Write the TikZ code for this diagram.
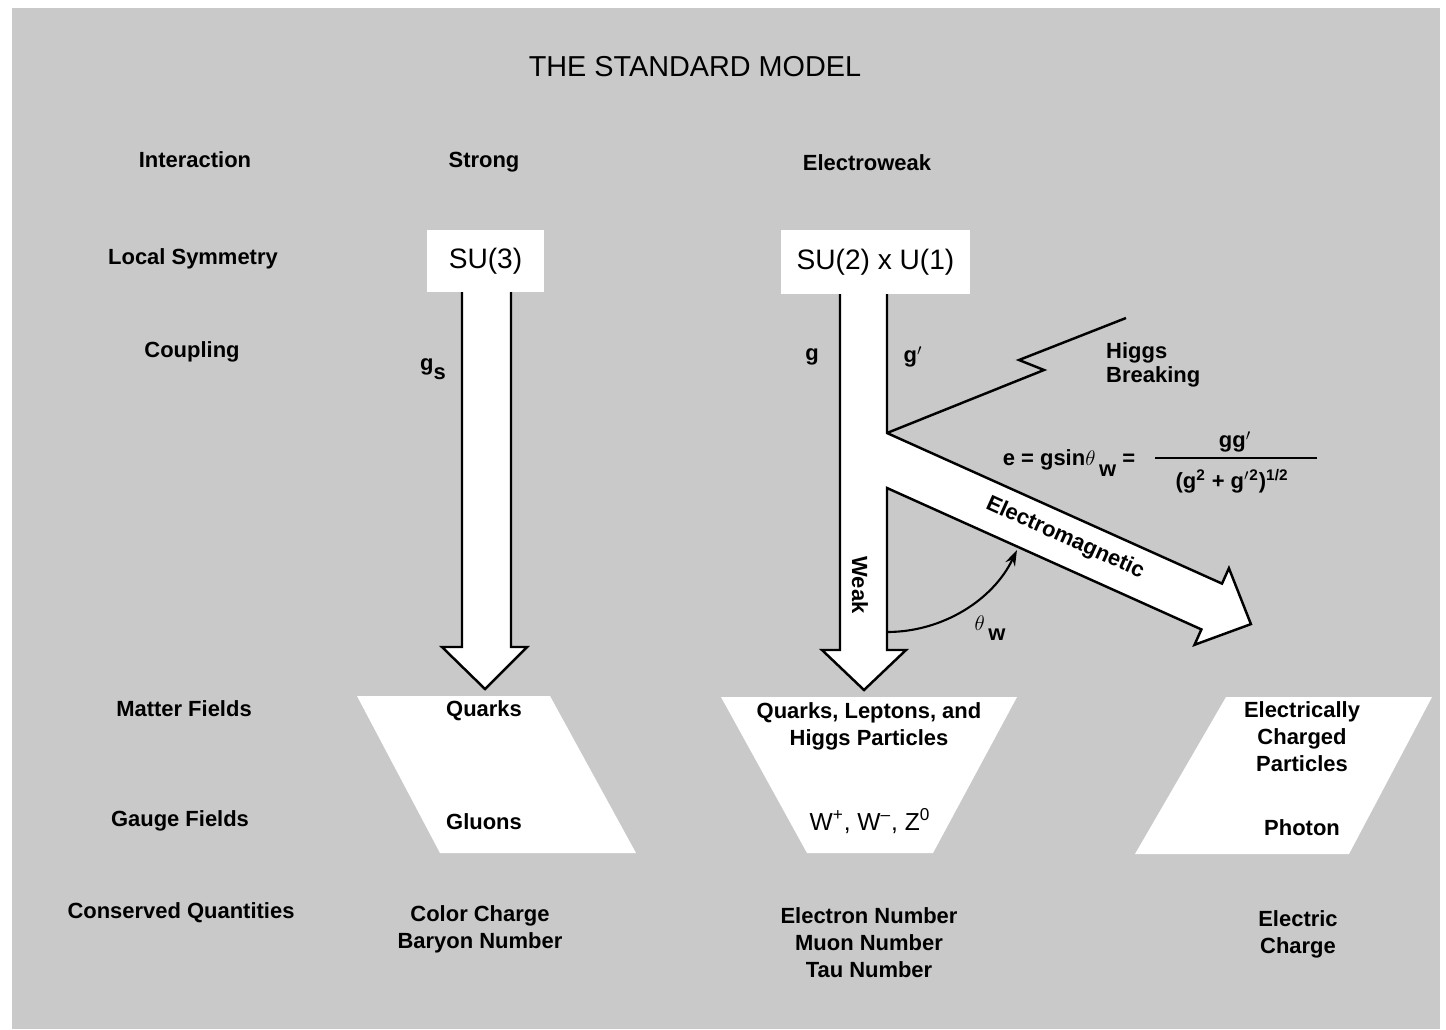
\documentclass[tikz,border=0pt]{standalone}
\usepackage{fontspec}
\setmainfont{Liberation Sans}
\usetikzlibrary{positioning, arrows.meta}
\definecolor{bggray}{RGB}{201,201,201}

\begin{document}
\begin{tikzpicture}[
    x=0.02cm, y=-0.02cm,
    line width=1.4pt,
    txt/.style={font=\bfseries\fontsize{12.5}{15.3}\selectfont, align=center, inner sep=0pt},
    heading/.style={font=\fontsize{16.4}{19}\selectfont, inner sep=0pt},
    groupbox/.style={fill=white, inner sep=0pt, font=\fontsize{16}{19}\selectfont},
    panel/.style={fill=white, draw=none},
    bigarrow/.style={fill=white, draw=black, line join=miter}
]
\useasboundingbox (0,0) rectangle (1446,1029);
\fill[bggray] (12,8) rectangle (1440,1029);

% white fields
\fill[panel] (357,696) -- (550,696) -- (636,853) -- (440,853) -- cycle;
\fill[panel] (721,697) -- (1017,697) -- (933,853) -- (807,853) -- cycle;
\fill[panel] (1226,697) -- (1432,697) -- (1349,854) -- (1135,854) -- cycle;

% arrows
\path[bigarrow] (462,292) -- (462,647) -- (442,647) -- (485,689) -- (527,647)
    -- (511,647) -- (511,292);
\coordinate (split) at (887,433);
\coordinate (emlow) at (887,488);
\path[bigarrow] (887,294) -- (split) -- (1222,583.6) -- (1228.9,568.2) -- (1250.9,624.1)
    -- (1194.5,644.8) -- (1201.4,629.4) -- (emlow) -- (887,650) -- (906,650)
    -- (864,690) -- (822,650) -- (840,650) -- (840,294);
\draw (split) -- (1044,370) -- (1019,360) -- (1126,318);
\draw[line width=1.2pt, -{Stealth[length=9pt, width=6pt]}] (emlow) ++(0,144) arc (90:25.5:144);

\node[groupbox, minimum width=2.34cm, minimum height=1.24cm] (su3) at (485.5,261) {SU(3)};
\node[groupbox, minimum width=3.78cm, minimum height=1.28cm] (su2) at (875.5,262) {SU(2) x U(1)};

\node[heading] (title) at (695,67) {THE STANDARD MODEL};

\node[txt] (inter) at (195,160) {Interaction};
    \node[txt] (locsym) at (193,259) {Local Symmetry};
    \node[txt] (coupl) at (192,352) {Coupling};
    \node[txt] (matter) at (184,709) {Matter Fields};
    \node[txt] (gauge) at (180,821) {Gauge Fields};
    \node[txt] (conserv) at (181,913) {Conserved Quantities};

\node[txt] (strong) at (484,162) {Strong};
    \node[txt] (ewk) at (867,163) {Electroweak};

\node[txt] (gs) at (433,369) {g\raisebox{-5pt}{s}};
    \node[txt] (g) at (812,357) {g};
    \node[txt] (gp) at (913,357) {g$'$};
    \node[txt, anchor=west] (higgs) at (1105,365) {\begin{tabular}{@{}l@{}}Higgs\\[-2pt]Breaking\end{tabular}};

\node[txt, rotate=-90] (weak) at (860,585) {Weak};
    \node[txt, rotate=-24.2] (em) at (1065,538) {Electromagnetic};
    \node[txt] (thw) at (990,628) {$\theta$\,\raisebox{-6pt}{w}};

\node[txt] (eeq) at (1069,463) {e = gsin$\theta$\,\raisebox{-6pt}{w} =};
    \node[txt] (num) at (1235,442) {gg$'$};
    \draw[line width=1.3pt] (1155,458) -- (1317,458);
    \node[txt] (den) at (1232,481) {(g\textsuperscript{2} + g$'$\textsuperscript{2})\textsuperscript{1/2}};

\node[txt] (quarks) at (484,711) {Quarks};
    \node[txt] (gluons) at (484,822) {Gluons};
    \node[txt] (qlh) at (869,726) {Quarks, Leptons, and\\Higgs Particles};
    \node[font=\fontsize{14}{16}\selectfont, inner sep=0pt] (wz) at (870,821) {W\textsuperscript{+}, W\textsuperscript{\textendash}, Z\textsuperscript{0}};
    \node[txt] (charged) at (1302,737) {Electrically\\Charged\\Particles};
    \node[txt] (photon) at (1302,828) {Photon};

\node[txt] (colch) at (480,929) {Color Charge\\Baryon Number};
    \node[txt] (lepnum) at (869,943) {Electron Number\\Muon Number\\Tau Number};
    \node[txt] (elch) at (1298,934) {Electric\\Charge};
\end{tikzpicture}
\end{document}
